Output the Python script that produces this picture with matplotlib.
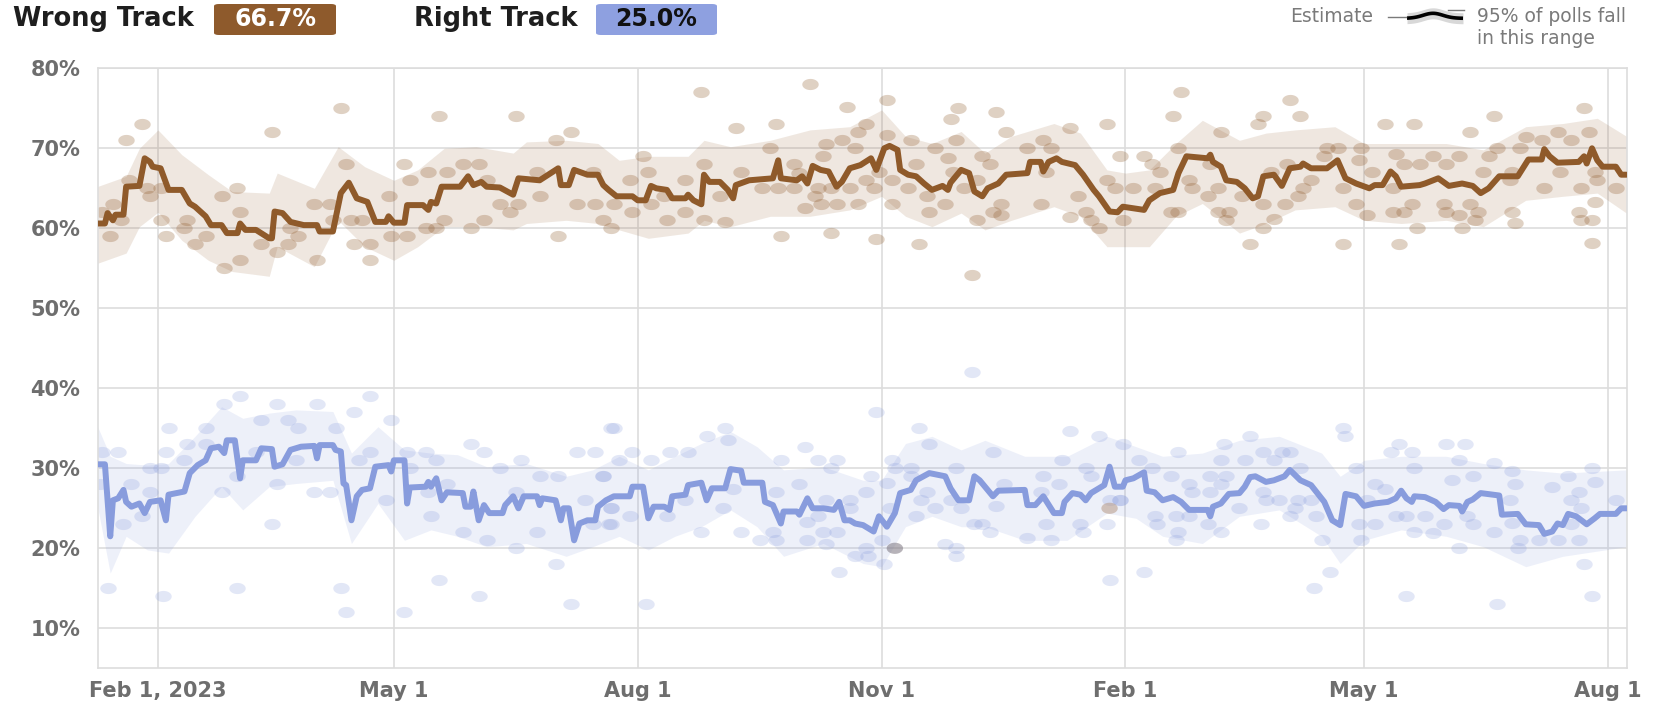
import matplotlib
matplotlib.use("Agg")
import matplotlib.pyplot as plt
import matplotlib.dates as mdates
from matplotlib.path import Path
from matplotlib.patches import FancyBboxPatch
from matplotlib.lines import Line2D
import numpy as np
import pandas as pd

# ---------------- DATA ----------------
wrong_est_dates = [
    "2023-01-09", "2023-01-12", "2023-01-13", "2023-01-15", "2023-01-16", "2023-01-19", "2023-01-20",
    "2023-01-25", "2023-01-27", "2023-01-29", "2023-01-30", "2023-02-02", "2023-02-05", "2023-02-10",
    "2023-02-13", "2023-02-15", "2023-02-19", "2023-02-21", "2023-02-25", "2023-02-27", "2023-03-03",
    "2023-03-04", "2023-03-06", "2023-03-10", "2023-03-15", "2023-03-16", "2023-03-17", "2023-03-20",
    "2023-03-23", "2023-03-28", "2023-04-02", "2023-04-03", "2023-04-08", "2023-04-11", "2023-04-14",
    "2023-04-17", "2023-04-21", "2023-04-24", "2023-04-28", "2023-04-29", "2023-05-01", "2023-05-05",
    "2023-05-06", "2023-05-12", "2023-05-14", "2023-05-15", "2023-05-17", "2023-05-19", "2023-05-26",
    "2023-05-29", "2023-05-31", "2023-06-03", "2023-06-05", "2023-06-10", "2023-06-15", "2023-06-17",
    "2023-06-25", "2023-07-02", "2023-07-03", "2023-07-06", "2023-07-08", "2023-07-13", "2023-07-17",
    "2023-07-19", "2023-07-21", "2023-07-24", "2023-07-30", "2023-08-01", "2023-08-04", "2023-08-06",
    "2023-08-08", "2023-08-12", "2023-08-14", "2023-08-19", "2023-08-20", "2023-08-22", "2023-08-25",
    "2023-08-26", "2023-08-28", "2023-09-01", "2023-09-04", "2023-09-06", "2023-09-07", "2023-09-12",
    "2023-09-21", "2023-09-23", "2023-09-24", "2023-09-30", "2023-10-02", "2023-10-04", "2023-10-06",
    "2023-10-09", "2023-10-12", "2023-10-15", "2023-10-17", "2023-10-20", "2023-10-24", "2023-10-28",
    "2023-10-30", "2023-11-02", "2023-11-04", "2023-11-07", "2023-11-08", "2023-11-11", "2023-11-14",
    "2023-11-17", "2023-11-20", "2023-11-24", "2023-11-26", "2023-11-27", "2023-12-01", "2023-12-04",
    "2023-12-06", "2023-12-09", "2023-12-11", "2023-12-15", "2023-12-18", "2023-12-26", "2023-12-27",
    "2023-12-31", "2024-01-01", "2024-01-03", "2024-01-06", "2024-01-08", "2024-01-13", "2024-01-16",
    "2024-01-20", "2024-01-22", "2024-01-26", "2024-01-29", "2024-01-31", "2024-02-08", "2024-02-10",
    "2024-02-14", "2024-02-19", "2024-02-21", "2024-02-24", "2024-03-03", "2024-03-04", "2024-03-05",
    "2024-03-08", "2024-03-10", "2024-03-14", "2024-03-17", "2024-03-20", "2024-03-22", "2024-03-24",
    "2024-03-28", "2024-03-31", "2024-04-03", "2024-04-07", "2024-04-08", "2024-04-11", "2024-04-17",
    "2024-04-21", "2024-04-24", "2024-04-28", "2024-05-03", "2024-05-05", "2024-05-08", "2024-05-11",
    "2024-05-13", "2024-05-15", "2024-05-22", "2024-05-24", "2024-05-29", "2024-06-02", "2024-06-07",
    "2024-06-11", "2024-06-14", "2024-06-17", "2024-06-21", "2024-06-28", "2024-07-02", "2024-07-07",
    "2024-07-08", "2024-07-10", "2024-07-13", "2024-07-21", "2024-07-23", "2024-07-24", "2024-07-26",
    "2024-07-28", "2024-07-30", "2024-08-04", "2024-08-06", "2024-08-08",
]
wrong_est_vals = [
    60.6, 60.6, 61.9, 61.0, 61.7, 61.7, 65.2,
    65.3, 68.75, 68.3, 67.7, 67.5, 64.8, 64.8,
    63.1, 62.7, 61.5, 60.4, 60.4, 59.4, 59.4,
    60.6, 59.8, 59.8, 58.75, 58.75, 62.1, 61.9,
    60.8, 60.4, 60.4, 59.6, 59.6, 64.4, 65.7,
    63.75, 63.3, 60.8, 60.8, 61.5, 60.7, 60.7,
    62.9, 62.9, 62.3, 63.3, 63.1, 65.2, 65.2,
    66.5, 65.4, 65.8, 65.2, 65.1, 64.2, 66.25,
    66.0, 67.5, 65.4, 65.4, 67.3, 66.7, 66.7,
    65.4, 64.8, 64.0, 64.0, 63.5, 63.5, 65.3,
    65.0, 64.8, 63.75, 63.75, 64.2, 63.5, 63.0,
    66.7, 65.8, 65.8, 64.8, 63.75, 65.4, 66.0,
    66.25, 68.5, 66.25, 66.0, 66.5, 65.6, 67.8,
    67.3, 67.1, 65.2, 65.8, 67.5, 67.9, 68.75,
    67.3, 70.0, 70.3, 69.8, 67.3, 66.7, 66.5,
    65.6, 64.8, 65.3, 64.8, 65.7, 67.3, 66.9,
    64.6, 64.0, 65.0, 65.6, 66.7, 66.9, 68.3,
    68.3, 67.1, 68.3, 68.75, 68.3, 67.9, 66.7,
    64.8, 64.0, 62.1, 62.0, 62.7, 62.3, 63.5,
    64.4, 64.8, 66.9, 69.0, 68.75, 69.2, 68.3,
    67.7, 66.0, 65.8, 65.0, 63.75, 64.0, 66.5,
    66.7, 65.3, 67.5, 67.7, 68.1, 67.5, 67.5,
    68.5, 66.25, 65.6, 65.0, 65.4, 65.4, 67.1,
    66.5, 65.2, 65.4, 65.6, 66.25, 65.3, 65.6,
    65.3, 64.4, 65.0, 66.5, 66.5, 68.6, 68.6,
    69.9, 69.0, 68.2, 68.3, 69.0, 68.1, 70.0,
    68.5, 67.7, 67.7, 66.7, 66.7,
]

right_est_dates = [
    "2023-01-09", "2023-01-12", "2023-01-14", "2023-01-15", "2023-01-17", "2023-01-19", "2023-01-20",
    "2023-01-22", "2023-01-25", "2023-01-27", "2023-01-29", "2023-02-02", "2023-02-04", "2023-02-05",
    "2023-02-11", "2023-02-13", "2023-02-16", "2023-02-19", "2023-02-21", "2023-02-24", "2023-02-26",
    "2023-02-27", "2023-03-02", "2023-03-04", "2023-03-05", "2023-03-10", "2023-03-12", "2023-03-16",
    "2023-03-17", "2023-03-20", "2023-03-23", "2023-03-27", "2023-04-01", "2023-04-02", "2023-04-03",
    "2023-04-08", "2023-04-09", "2023-04-11", "2023-04-12", "2023-04-13", "2023-04-15", "2023-04-17",
    "2023-04-19", "2023-04-22", "2023-04-24", "2023-04-29", "2023-04-30", "2023-05-01", "2023-05-05",
    "2023-05-06", "2023-05-07", "2023-05-13", "2023-05-14", "2023-05-15", "2023-05-17", "2023-05-19",
    "2023-05-21", "2023-05-27", "2023-05-28", "2023-05-30", "2023-05-31", "2023-06-02", "2023-06-04",
    "2023-06-06", "2023-06-11", "2023-06-12", "2023-06-15", "2023-06-17", "2023-06-19", "2023-06-24",
    "2023-06-25", "2023-06-26", "2023-07-01", "2023-07-03", "2023-07-04", "2023-07-06", "2023-07-08",
    "2023-07-10", "2023-07-13", "2023-07-16", "2023-07-17", "2023-07-20", "2023-07-23", "2023-07-29",
    "2023-07-30", "2023-08-03", "2023-08-05", "2023-08-07", "2023-08-11", "2023-08-13", "2023-08-14",
    "2023-08-19", "2023-08-20", "2023-08-25", "2023-08-27", "2023-08-29", "2023-09-03", "2023-09-05",
    "2023-09-09", "2023-09-10", "2023-09-17", "2023-09-18", "2023-09-21", "2023-09-24", "2023-09-25",
    "2023-09-30", "2023-10-01", "2023-10-04", "2023-10-06", "2023-10-10", "2023-10-14", "2023-10-16",
    "2023-10-18", "2023-10-20", "2023-10-22", "2023-10-25", "2023-10-29", "2023-10-31", "2023-11-03",
    "2023-11-06", "2023-11-08", "2023-11-12", "2023-11-14", "2023-11-19", "2023-11-25", "2023-11-27",
    "2023-11-30", "2023-12-04", "2023-12-06", "2023-12-08", "2023-12-10", "2023-12-13", "2023-12-15",
    "2023-12-25", "2023-12-26", "2023-12-29", "2024-01-01", "2024-01-05", "2024-01-08", "2024-01-09",
    "2024-01-12", "2024-01-15", "2024-01-17", "2024-01-19", "2024-01-22", "2024-01-24", "2024-01-26",
    "2024-01-28", "2024-01-31", "2024-02-01", "2024-02-04", "2024-02-08", "2024-02-09", "2024-02-12",
    "2024-02-15", "2024-02-19", "2024-02-22", "2024-02-25", "2024-03-03", "2024-03-04", "2024-03-05",
    "2024-03-08", "2024-03-11", "2024-03-15", "2024-03-17", "2024-03-19", "2024-03-21", "2024-03-25",
    "2024-03-28", "2024-04-01", "2024-04-03", "2024-04-07", "2024-04-11", "2024-04-16", "2024-04-19",
    "2024-04-22", "2024-04-24", "2024-04-28", "2024-05-01", "2024-05-05", "2024-05-10", "2024-05-13",
    "2024-05-15", "2024-05-17", "2024-05-19", "2024-05-20", "2024-05-24", "2024-05-28", "2024-05-31",
    "2024-06-02", "2024-06-06", "2024-06-07", "2024-06-09", "2024-06-11", "2024-06-14", "2024-06-21",
    "2024-06-22", "2024-06-28", "2024-07-01", "2024-07-06", "2024-07-08", "2024-07-11", "2024-07-13",
    "2024-07-15", "2024-07-17", "2024-07-20", "2024-07-24", "2024-07-27", "2024-07-29", "2024-08-04",
    "2024-08-06", "2024-08-08",
]
right_est_vals = [
    30.5, 30.5, 21.5, 26.0, 26.25, 27.3, 25.8,
    25.2, 25.6, 24.4, 25.8, 26.0, 23.5, 26.7,
    27.1, 29.4, 30.4, 31.0, 32.5, 32.7, 31.9,
    33.5, 33.5, 28.75, 31.0, 31.0, 32.5, 32.4,
    30.2, 30.5, 32.3, 32.7, 32.8, 31.25, 32.9,
    32.9, 32.3, 32.1, 28.1, 27.9, 23.5, 26.5,
    27.3, 27.5, 30.2, 30.4, 29.6, 31.0, 31.0,
    25.6, 27.6, 27.7, 28.3, 27.7, 28.75, 26.0,
    27.0, 26.9, 25.2, 25.2, 27.1, 23.5, 25.4,
    24.4, 24.4, 25.4, 26.5, 25.0, 26.5, 26.5,
    25.4, 26.25, 26.0, 23.5, 25.0, 25.0, 21.0,
    23.1, 23.5, 23.5, 25.2, 26.0, 26.5, 26.5,
    27.7, 27.7, 23.75, 25.2, 25.2, 24.8, 26.5,
    26.7, 27.9, 28.2, 26.0, 27.5, 27.5, 29.9,
    29.7, 28.2, 28.2, 25.8, 25.4, 23.1, 24.6,
    24.6, 24.2, 26.25, 25.0, 25.0, 24.8, 25.8,
    23.5, 23.5, 23.1, 22.9, 22.1, 24.0, 22.7,
    24.4, 26.9, 27.3, 28.5, 29.4, 29.0, 27.5,
    26.0, 26.0, 29.0, 28.5, 27.7, 26.5, 27.2,
    27.3, 25.4, 25.4, 26.5, 24.4, 24.4, 25.8,
    26.9, 26.7, 26.0, 26.9, 27.5, 27.9, 30.2,
    27.7, 27.7, 28.5, 28.75, 29.5, 27.2, 27.0,
    26.0, 26.4, 25.8, 24.8, 24.8, 24.0, 25.2,
    25.6, 26.8, 26.9, 27.7, 28.9, 29.0, 28.3,
    28.5, 29.0, 29.8, 28.5, 27.9, 25.8, 23.5,
    22.9, 26.8, 26.5, 25.3, 25.6, 25.8, 26.25,
    27.2, 26.25, 25.8, 26.5, 26.4, 25.8, 24.9,
    25.4, 25.3, 24.6, 25.8, 26.1, 26.9, 26.6,
    24.2, 24.3, 23.0, 22.9, 21.8, 22.1, 23.1,
    22.9, 24.3, 24.0, 23.0, 23.75, 24.3, 24.3,
    25.0, 25.0,
]

wrong_band_dates = [
    "2023-01-09", "2023-01-20", "2023-01-25", "2023-02-01", "2023-02-10", "2023-02-20", "2023-03-01",
    "2023-03-15", "2023-03-18", "2023-04-01", "2023-04-10", "2023-04-20", "2023-05-01", "2023-05-10",
    "2023-05-20", "2023-06-01", "2023-06-15", "2023-06-20", "2023-07-05", "2023-07-17", "2023-07-25",
    "2023-08-05", "2023-08-20", "2023-08-26", "2023-09-05", "2023-09-20", "2023-10-05", "2023-10-20",
    "2023-11-01", "2023-11-10", "2023-11-20", "2023-12-01", "2023-12-10", "2023-12-20", "2024-01-05",
    "2024-01-15", "2024-01-25", "2024-02-01", "2024-02-10", "2024-02-20", "2024-03-01", "2024-03-15",
    "2024-03-25", "2024-04-05", "2024-04-20", "2024-05-01", "2024-05-15", "2024-06-01", "2024-06-15",
    "2024-07-01", "2024-07-15", "2024-07-28", "2024-08-08",
]
wrong_band_lo = [
    55.6, 56.9, 60.2, 62.0, 58.5, 56.0, 54.6,
    54.0, 57.7, 55.2, 61.0, 57.7, 56.0, 57.7,
    60.2, 60.2, 59.8, 60.6, 61.0, 60.6, 59.8,
    58.75, 59.4, 61.0, 60.2, 61.5, 61.5, 62.3,
    64.0, 61.5, 60.2, 61.9, 59.8, 61.0, 62.7,
    61.5, 57.7, 57.7, 57.7, 61.5, 63.1, 59.4,
    60.6, 62.3, 62.7, 61.0, 60.6, 61.0, 60.2,
    63.5, 64.0, 64.4, 61.9,
]
wrong_band_hi = [
    65.2, 66.5, 70.0, 72.3, 69.2, 66.7, 64.6,
    64.4, 66.9, 65.0, 70.2, 67.7, 66.0, 67.3,
    70.0, 70.2, 69.4, 70.8, 71.0, 70.6, 68.5,
    69.0, 69.0, 71.0, 70.2, 71.0, 72.3, 72.7,
    74.8, 71.5, 70.6, 72.1, 69.4, 71.5, 73.1,
    71.9, 67.3, 66.9, 67.3, 70.6, 73.5, 71.0,
    71.9, 72.3, 72.7, 70.6, 70.6, 70.6, 69.8,
    72.7, 73.1, 73.75, 71.5,
]

right_band_dates = [
    "2023-01-09", "2023-01-14", "2023-01-20", "2023-01-28", "2023-02-05", "2023-02-15", "2023-02-25",
    "2023-03-05", "2023-03-15", "2023-03-25", "2023-04-08", "2023-04-15", "2023-04-25", "2023-05-05",
    "2023-05-15", "2023-05-25", "2023-06-05", "2023-06-20", "2023-07-05", "2023-07-15", "2023-07-25",
    "2023-08-05", "2023-08-15", "2023-08-25", "2023-09-05", "2023-09-15", "2023-09-25", "2023-10-10",
    "2023-10-25", "2023-11-01", "2023-11-10", "2023-11-20", "2023-12-01", "2023-12-10", "2023-12-25",
    "2024-01-10", "2024-01-25", "2024-02-05", "2024-02-15", "2024-03-01", "2024-03-15", "2024-03-30",
    "2024-04-15", "2024-04-22", "2024-05-01", "2024-05-15", "2024-06-01", "2024-06-15", "2024-07-01",
    "2024-07-15", "2024-08-08",
]
right_band_lo = [
    25.6, 16.9, 21.5, 19.8, 19.4, 24.0, 27.7,
    24.8, 27.7, 28.1, 28.5, 20.6, 25.6, 21.0,
    22.3, 21.5, 20.2, 20.6, 19.0, 20.2, 21.5,
    19.8, 21.5, 22.7, 24.8, 22.7, 19.0, 20.6,
    18.1, 17.7, 22.7, 24.0, 22.7, 22.7, 21.0,
    21.0, 24.4, 23.75, 21.5, 20.6, 24.0, 24.8,
    21.5, 18.1, 21.0, 22.3, 21.5, 20.2, 17.7,
    19.0, 20.2,
]
right_band_hi = [
    35.4, 31.5, 30.6, 30.4, 30.6, 34.0, 37.7,
    36.25, 36.9, 37.3, 37.1, 31.9, 35.2, 32.3,
    31.9, 31.7, 30.2, 30.6, 29.0, 29.8, 31.5,
    29.8, 31.5, 33.1, 34.6, 32.7, 29.8, 30.2,
    28.5, 28.5, 33.1, 34.0, 32.3, 33.5, 31.5,
    31.5, 34.0, 32.7, 31.5, 31.9, 33.5, 34.0,
    31.9, 29.0, 31.0, 31.5, 31.5, 30.6, 29.8,
    29.4, 29.8,
]

wrong_poll_dates = [
    "2023-04-11", "2023-03-16", "2023-05-18", "2023-06-16", "2023-07-07", "2023-07-01", "2023-01-26",
    "2023-01-20", "2023-04-13", "2023-05-05", "2023-05-27", "2023-06-02", "2023-05-14", "2023-05-21",
    "2023-05-07", "2023-06-05", "2023-06-24", "2023-07-15", "2023-01-21", "2023-01-28", "2023-02-02",
    "2023-03-03", "2023-02-25", "2023-04-29", "2023-06-25", "2023-01-15", "2023-01-29", "2023-03-04",
    "2023-04-01", "2023-04-07", "2023-06-10", "2023-06-17", "2023-07-09", "2023-07-16", "2023-06-14",
    "2023-01-11", "2023-01-18", "2023-02-02", "2023-02-12", "2023-04-08", "2023-04-15", "2023-04-19",
    "2023-05-20", "2023-06-04", "2023-07-19", "2023-01-14", "2023-02-04", "2023-02-11", "2023-02-19",
    "2023-03-26", "2023-04-30", "2023-05-06", "2023-05-13", "2023-05-17", "2023-05-30", "2023-07-02",
    "2023-07-22", "2023-02-15", "2023-03-12", "2023-03-22", "2023-04-16", "2023-04-22", "2023-03-18",
    "2023-03-04", "2023-02-26", "2023-04-02", "2023-04-22", "2023-03-23",
    "2023-08-25", "2023-10-05", "2023-10-19", "2023-11-03", "2023-11-30", "2023-12-14", "2023-11-27",
    "2023-09-07", "2023-09-22", "2024-01-25", "2023-10-26", "2024-01-11", "2023-10-23", "2023-12-18",
    "2023-11-03", "2023-10-17", "2023-11-12", "2023-11-29", "2024-01-01", "2023-08-03", "2023-09-20",
    "2023-10-11", "2023-10-22", "2023-11-21", "2023-12-26", "2024-01-04", "2023-11-26", "2023-12-09",
    "2023-10-10", "2023-08-26", "2023-09-29", "2023-11-14", "2023-12-12", "2024-01-30", "2023-08-05",
    "2023-09-09", "2023-10-31", "2023-11-28", "2024-01-02", "2023-07-29", "2023-08-19", "2023-10-01",
    "2023-10-26", "2023-11-05", "2023-12-07", "2024-01-25", "2023-09-17", "2023-09-23", "2023-09-29",
    "2023-10-08", "2023-10-13", "2023-10-20", "2023-10-29", "2023-12-02", "2024-01-28", "2023-08-11",
    "2023-09-01", "2023-10-07", "2023-11-11", "2023-11-18", "2024-01-14", "2023-07-23", "2023-08-06",
    "2023-10-03", "2023-10-09", "2023-10-15", "2023-10-23", "2023-11-05", "2023-11-25", "2023-12-16",
    "2023-12-31", "2023-07-30", "2023-08-19", "2023-11-19", "2023-12-13", "2024-01-17", "2023-08-12",
    "2023-08-26", "2023-09-03", "2023-12-07", "2023-12-16", "2024-01-11", "2024-01-19", "2024-01-22",
    "2023-09-24", "2023-10-13", "2023-10-30", "2023-11-15", "2023-12-05",
    "2024-02-22", "2024-04-03", "2024-02-19", "2024-03-24", "2024-03-22", "2024-04-07", "2024-06-19",
    "2024-07-23", "2024-05-09", "2024-05-20", "2024-03-08", "2024-06-10", "2024-07-13", "2024-07-25",
    "2024-07-01", "2024-07-07", "2024-07-18", "2024-02-08", "2024-02-21", "2024-04-17", "2024-04-21",
    "2024-04-30", "2024-06-20", "2024-06-29", "2024-02-11", "2024-02-14", "2024-03-04", "2024-04-02",
    "2024-04-16", "2024-04-29", "2024-05-13", "2024-05-27", "2024-06-06", "2024-06-17", "2024-06-15",
    "2024-05-04", "2024-05-16", "2024-05-22", "2024-06-01", "2024-06-26", "2024-07-14", "2024-07-27",
    "2024-02-25", "2024-06-25", "2024-07-28", "2024-03-27", "2024-04-11", "2024-02-26", "2024-02-04",
    "2024-02-12", "2024-03-07", "2024-04-08", "2024-04-23", "2024-05-12", "2024-07-08", "2024-07-22",
    "2024-08-04", "2024-03-03", "2024-03-16", "2024-04-06", "2024-04-28", "2024-05-19", "2024-05-31",
    "2024-06-10", "2024-07-27", "2024-04-01", "2024-03-24", "2024-02-18", "2024-02-21", "2024-03-07",
    "2024-03-11", "2024-05-02", "2024-05-12", "2024-05-16", "2024-06-01", "2024-06-06", "2024-06-13",
    "2024-06-26", "2024-07-21", "2024-01-31", "2024-03-10", "2024-03-28", "2024-06-12", "2024-07-22",
    "2024-07-26", "2024-06-27", "2024-03-24", "2024-05-21", "2024-06-07", "2024-03-19", "2024-04-23",
    "2024-05-14", "2024-07-26",
]
wrong_poll_vals = [
    75.0, 72.0, 74.0, 74.0, 72.0, 71.0, 73.0,
    71.0, 68.0, 68.0, 68.0, 68.0, 67.0, 67.0,
    66.0, 66.0, 67.0, 67.0, 66.0, 65.0, 65.0,
    65.0, 64.0, 64.0, 64.0, 63.0, 64.0, 62.0,
    63.0, 63.0, 63.0, 63.0, 63.0, 63.0, 62.0,
    62.0, 61.0, 61.0, 61.0, 61.0, 61.0, 61.0,
    61.0, 61.0, 61.0, 59.0, 59.0, 60.0, 59.0,
    59.0, 59.0, 59.0, 60.0, 60.0, 60.0, 59.0,
    60.0, 58.0, 58.0, 58.0, 58.0, 58.0, 57.0,
    56.0, 55.0, 56.0, 56.0, 60.0,
    77.0, 78.0, 75.2, 76.0, 75.0, 74.6, 73.7,
    72.6, 73.0, 73.0, 73.0, 72.6, 72.0, 72.0,
    71.7, 71.0, 71.0, 71.0, 71.0, 69.0, 70.0,
    70.5, 70.0, 70.0, 70.0, 70.0, 68.75, 69.0,
    69.0, 68.0, 68.0, 68.0, 68.0, 69.0, 67.0,
    67.0, 67.1, 67.0, 67.0, 66.0, 66.0, 66.9,
    66.0, 66.0, 66.0, 66.0, 65.0, 65.0, 65.0,
    65.0, 65.0, 65.0, 65.0, 65.0, 65.0, 64.0,
    64.0, 64.0, 65.0, 64.0, 64.0, 63.0, 63.0,
    62.5, 63.0, 63.0, 63.0, 63.0, 63.0, 63.0,
    63.0, 62.0, 62.0, 62.0, 62.0, 62.0, 61.0,
    61.0, 60.8, 61.0, 61.7, 61.4, 61.0, 60.0,
    59.0, 59.4, 58.6, 58.0, 54.1,
    77.0, 76.0, 74.0, 74.0, 73.0, 74.0, 74.0,
    75.0, 73.0, 73.0, 72.0, 72.0, 72.0, 72.0,
    71.4, 71.0, 71.0, 69.0, 70.0, 70.0, 70.0,
    70.0, 70.0, 70.0, 68.0, 67.0, 68.0, 68.0,
    69.0, 68.6, 69.3, 69.0, 69.0, 69.0, 67.0,
    67.0, 68.0, 68.0, 68.0, 67.0, 67.0, 67.0,
    66.0, 66.0, 66.0, 67.0, 66.0, 65.0, 65.0,
    65.0, 65.0, 65.0, 65.0, 65.0, 65.0, 65.0,
    65.0, 64.0, 64.0, 64.0, 63.0, 63.0, 63.0,
    63.0, 63.3, 63.0, 63.0, 62.0, 62.0, 62.0,
    62.0, 61.7, 62.0, 62.0, 62.0, 61.7, 62.0,
    62.0, 62.0, 61.0, 61.0, 61.1, 61.0, 61.0,
    61.0, 60.6, 60.0, 60.0, 60.0, 58.0, 58.0,
    58.0, 58.2,
]

right_poll_dates = [
    "2023-03-04", "2023-04-22", "2023-02-26", "2023-03-18", "2023-04-02", "2023-04-16", "2023-02-05",
    "2023-02-19", "2023-03-12", "2023-03-22", "2023-03-26", "2023-04-09", "2023-04-30", "2023-07-22",
    "2023-02-12", "2023-02-19", "2023-05-30", "2023-01-11", "2023-01-17", "2023-02-04", "2023-03-10",
    "2023-04-22", "2023-05-06", "2023-05-13", "2023-06-04", "2023-07-09", "2023-07-16", "2023-02-11",
    "2023-03-25", "2023-04-18", "2023-05-17", "2023-06-18", "2023-07-25", "2023-01-29", "2023-02-02",
    "2023-05-07", "2023-06-10", "2023-06-25", "2023-07-02", "2023-07-19", "2023-03-03", "2023-01-22",
    "2023-03-18", "2023-05-21", "2023-01-10", "2023-02-25", "2023-04-01", "2023-04-07", "2023-01-29",
    "2023-05-14", "2023-06-16", "2023-04-28", "2023-07-12", "2023-07-22", "2023-01-26", "2023-05-15",
    "2023-01-19", "2023-03-16", "2023-07-21", "2023-05-27", "2023-06-24", "2023-07-15", "2023-06-05",
    "2023-06-16", "2023-07-01", "2023-05-18", "2023-01-13", "2023-02-03", "2023-03-03", "2023-04-11",
    "2023-04-13", "2023-05-05", "2023-06-02", "2023-07-07",
    "2023-12-05", "2023-10-30", "2023-07-23", "2023-09-03", "2023-11-15", "2024-01-11", "2024-01-22",
    "2024-01-31", "2023-08-27", "2023-09-04", "2023-11-19", "2023-10-03", "2023-07-30", "2023-08-13",
    "2023-08-20", "2023-12-13", "2023-08-06", "2023-09-24", "2023-10-08", "2023-10-15", "2023-11-05",
    "2024-01-08", "2023-10-13", "2023-11-06", "2023-11-12", "2023-11-29", "2024-01-17", "2023-07-19",
    "2023-10-28", "2023-11-12", "2024-01-01", "2024-01-19", "2023-10-01", "2023-11-03", "2023-12-17",
    "2024-01-07", "2023-09-06", "2023-09-22", "2023-10-26", "2023-11-18", "2023-12-31", "2023-08-19",
    "2023-10-11", "2023-10-20", "2023-11-16", "2023-11-27", "2024-01-26", "2024-01-30", "2023-07-22",
    "2023-09-02", "2023-10-20", "2023-11-04", "2023-11-21", "2023-12-01", "2023-12-14", "2023-07-29",
    "2023-08-12", "2023-10-08", "2023-11-14", "2023-07-22", "2023-10-04", "2023-12-06", "2023-12-09",
    "2024-01-02", "2024-01-15", "2024-01-25", "2023-08-25", "2023-09-09", "2023-09-21", "2023-10-10",
    "2023-10-15", "2023-12-12", "2024-01-16", "2023-09-16", "2023-09-22", "2023-10-04", "2023-11-01",
    "2023-12-26", "2024-01-04", "2023-10-11", "2023-11-25", "2023-11-29", "2023-10-26", "2023-10-22",
    "2023-10-27", "2023-11-29", "2023-11-02", "2023-10-16", "2024-01-26", "2023-08-04",
    "2024-04-23", "2024-04-24", "2024-03-19", "2024-03-09", "2024-06-01", "2024-06-08", "2024-05-14",
    "2024-02-21", "2024-03-24", "2024-03-31", "2024-04-03", "2024-05-11", "2024-05-19", "2024-02-06",
    "2024-03-08", "2024-03-17", "2024-03-28", "2024-06-06", "2024-06-19", "2024-02-11", "2024-04-07",
    "2024-04-28", "2024-05-20", "2024-06-26", "2024-07-26", "2024-02-18", "2024-03-04", "2024-03-10",
    "2024-06-11", "2024-07-17", "2024-06-03", "2024-02-25", "2024-03-08", "2024-05-05", "2024-06-27",
    "2024-07-11", "2024-07-27", "2024-02-26", "2024-03-04", "2024-03-24", "2024-05-09", "2024-07-21",
    "2024-01-30", "2024-03-25", "2024-03-30", "2024-04-06", "2024-04-11", "2024-06-25", "2024-07-18",
    "2024-08-04", "2024-03-15", "2024-04-05", "2024-05-02", "2024-07-22", "2024-02-12", "2024-02-20",
    "2024-02-25", "2024-04-03", "2024-04-13", "2024-05-13", "2024-05-17", "2024-05-24", "2024-06-09",
    "2024-06-26", "2024-02-13", "2024-03-03", "2024-03-23", "2024-04-29", "2024-05-05", "2024-05-31",
    "2024-06-11", "2024-07-18", "2024-02-21", "2024-03-08", "2024-05-20", "2024-05-27", "2024-06-19",
    "2024-02-20", "2024-04-15", "2024-04-30", "2024-06-29", "2024-07-06", "2024-07-13", "2024-07-21",
    "2024-06-06", "2024-06-28", "2024-07-23", "2024-02-08", "2024-04-18", "2024-04-12", "2024-05-17",
    "2024-06-20", "2024-07-26",
]
right_poll_vals = [
    39.0, 39.0, 38.0, 38.0, 38.0, 37.0, 35.0,
    35.0, 36.0, 36.0, 35.0, 35.0, 36.0, 35.0,
    33.0, 33.0, 33.0, 32.0, 32.0, 32.0, 32.0,
    32.0, 32.0, 32.0, 32.0, 32.0, 32.0, 31.0,
    31.0, 31.0, 31.0, 31.0, 31.0, 30.0, 30.0,
    30.0, 30.0, 29.0, 29.0, 29.0, 29.0, 28.0,
    28.0, 28.0, 28.0, 27.0, 27.0, 27.0, 27.0,
    27.0, 27.0, 26.0, 26.0, 25.0, 24.0, 24.0,
    23.0, 23.0, 23.0, 22.0, 22.0, 23.0, 21.0,
    20.0, 18.0, 16.0, 15.0, 14.0, 15.0, 15.0,
    12.0, 12.0, 14.0, 13.0,
    42.0, 37.0, 35.0, 35.0, 35.0, 34.6, 34.0,
    33.0, 34.0, 33.5, 33.0, 32.7, 32.0, 32.0,
    32.0, 32.0, 31.0, 31.0, 31.0, 31.0, 31.0,
    31.0, 30.0, 30.0, 30.0, 30.0, 30.0, 29.0,
    29.0, 29.0, 29.0, 29.0, 28.0, 28.2, 28.0,
    28.0, 27.4, 27.0, 27.0, 27.0, 27.0, 26.0,
    26.0, 26.0, 26.0, 26.0, 26.0, 26.0, 25.0,
    25.0, 25.0, 25.0, 25.0, 25.0, 25.3, 24.0,
    24.0, 24.0, 24.0, 23.0, 23.25, 23.0, 23.0,
    23.0, 23.0, 23.0, 22.0, 22.0, 22.0, 22.0,
    22.0, 22.0, 22.0, 21.0, 21.0, 21.0, 21.0,
    21.25, 21.0, 20.6, 20.6, 20.0, 20.0, 19.0,
    19.0, 19.0, 18.0, 17.0, 16.0, 13.0,
    35.0, 34.0, 34.0, 33.0, 33.0, 33.0, 33.0,
    32.0, 32.0, 32.0, 32.0, 32.0, 32.0, 31.0,
    31.0, 31.0, 31.0, 31.0, 30.6, 30.0, 30.0,
    30.0, 30.0, 29.6, 30.0, 29.0, 29.0, 29.0,
    29.0, 29.0, 28.5, 28.0, 28.0, 28.0, 28.0,
    27.6, 28.3, 27.0, 27.0, 27.0, 27.4, 27.0,
    26.0, 26.0, 26.0, 26.0, 26.0, 26.0, 26.0,
    26.0, 25.0, 25.0, 26.0, 25.0, 24.0, 24.0,
    24.0, 24.0, 24.0, 24.0, 24.0, 24.0, 24.0,
    23.2, 23.0, 23.0, 23.0, 23.0, 23.0, 23.0,
    23.0, 23.0, 22.0, 22.0, 22.0, 21.9, 22.0,
    21.0, 21.0, 21.0, 21.0, 21.0, 21.0, 21.0,
    20.0, 20.0, 18.0, 17.0, 17.0, 15.0, 14.0,
    13.0, 14.0,
]

# two polls shown in mixed colours inside the lower band
odd_poll_dates = ["2023-11-06", "2024-01-26"]
odd_poll_vals = [20.0, 25.0]

x_tick_dates = ["2023-02-01", "2023-05-01", "2023-08-01", "2023-11-01",
                "2024-02-01", "2024-05-01", "2024-08-01"]
x_tick_labels = ["Feb 1, 2023", "May 1", "Aug 1", "Nov 1", "Feb 1", "May 1", "Aug 1"]
y_ticks = [10, 20, 30, 40, 50, 60, 70, 80]
y_tick_labels = ["10%", "20%", "30%", "40%", "50%", "60%", "70%", "80%"]

wrong_label, wrong_latest = "Wrong Track", "66.7%"
right_label, right_latest = "Right Track", "25.0%"

# ---------------- STYLE ----------------
BROWN = "#8F5A2A"
BLUE = "#889CDD"
BROWN_BADGE = "#8E5A2C"
BLUE_BADGE = "#8EA0E0"
GRID = "#DDDDDD"
TICK = "#6E6E6E"

W, H = 1655, 701
fig = plt.figure(figsize=(W / 100, H / 100), dpi=100)


def fx(px):
    return px / W


def fy(py):
    return 1 - py / H


ax = fig.add_axes([fx(97.5), fy(668.3), fx(1627) - fx(97.5), 600 / H])

to_dt = pd.to_datetime

# bands
ax.fill_between(to_dt(wrong_band_dates), wrong_band_lo, wrong_band_hi,
                color=BROWN, alpha=0.14, linewidth=0, zorder=1)
ax.fill_between(to_dt(right_band_dates), right_band_lo, right_band_hi,
                color=BLUE, alpha=0.15, linewidth=0, zorder=1)

# ellipse marker (dots are wider than tall)
t = np.linspace(0, 2 * np.pi, 48)
ell = Path(np.column_stack([np.cos(t), 0.68 * np.sin(t)]), closed=True)

ax.scatter(to_dt(wrong_poll_dates), wrong_poll_vals, marker=ell, s=140,
           color=BROWN, alpha=0.28, linewidths=0, zorder=2)
ax.scatter(to_dt(right_poll_dates), right_poll_vals, marker=ell, s=140,
           color=BLUE, alpha=0.24, linewidths=0, zorder=2)
ax.scatter(to_dt(odd_poll_dates), odd_poll_vals, marker=ell, s=140,
           color=["#7d7680", "#b89a86"], alpha=0.55, linewidths=0, zorder=2)

# estimate lines
ax.plot(to_dt(wrong_est_dates), wrong_est_vals, color=BROWN, lw=4.3,
        solid_joinstyle="round", solid_capstyle="round", zorder=4)
ax.plot(to_dt(right_est_dates), right_est_vals, color=BLUE, lw=4.3,
        solid_joinstyle="round", solid_capstyle="round", zorder=4)

# axes formatting
x0 = mdates.date2num(pd.Timestamp("2023-01-09")) + 0.2
x1 = mdates.date2num(pd.Timestamp("2024-08-08")) + 0.2
ax.set_xlim(x0, x1)
ax.set_ylim(5, 80)
ax.set_yticks(y_ticks)
ax.set_yticklabels(y_tick_labels)
ax.set_xticks(to_dt(x_tick_dates))
ax.set_xticklabels(x_tick_labels)
ax.grid(True, color=GRID, lw=1.2, zorder=0)
ax.set_axisbelow(True)
for sp in ax.spines.values():
    sp.set_color(GRID)
    sp.set_linewidth(1.2)
ax.tick_params(axis="both", length=0, colors=TICK)
ax.tick_params(axis="y", pad=12.5)
ax.tick_params(axis="x", pad=9.5)
for lab in ax.get_yticklabels() + ax.get_xticklabels():
    lab.set_fontweight("bold")
    lab.set_fontsize(15)
    lab.set_color(TICK)

# ---------------- HEADER ----------------
fig.text(fx(12.7), fy(19.5), wrong_label, fontsize=18.5, fontweight="bold",
         color="#1e1e1e", ha="left", va="center")
fig.text(fx(414), fy(19.5), right_label, fontsize=18.5, fontweight="bold",
         color="#1e1e1e", ha="left", va="center")

for (l, r, col, txt, tcol) in [(214, 336, BROWN_BADGE, wrong_latest, "white"),
                               (596, 717, BLUE_BADGE, right_latest, "#111111")]:
    patch = FancyBboxPatch((fx(l), fy(35)), fx(r) - fx(l), 31 / H,
                           boxstyle="round,pad=0,rounding_size=0.003",
                           transform=fig.transFigure, facecolor=col,
                           edgecolor="none")
    fig.patches.append(patch)
    fig.text(fx((l + r) / 2), fy(19.5), txt, fontsize=17, fontweight="bold",
             color=tcol, ha="center", va="center")

# ---------------- LEGEND (top right) ----------------
LEG = "#7a7a7a"
fig.text(fx(1373), fy(16.7), "Estimate", fontsize=13.5, color=LEG,
         ha="right", va="center")
fig.text(fx(1477), fy(16.7), "95% of polls fall", fontsize=13.5, color=LEG,
         ha="left", va="center")
fig.text(fx(1477), fy(38.3), "in this range", fontsize=13.5, color=LEG,
         ha="left", va="center")
fig.add_artist(Line2D([fx(1388), fx(1406)], [fy(17), fy(17)], color=LEG,
                      lw=1.0, transform=fig.transFigure))

lax = fig.add_axes([fx(1405), fy(30), fx(1466) - fx(1405), 26 / H])
lax.set_xlim(1405, 1466)
lax.set_ylim(30, 4)
lax.axis("off")
gx = np.linspace(1407, 1463, 30)
gmid = 18.3 - 5.0 * np.exp(-((gx - 1433) / 14.0) ** 2)
lax.fill_between(gx, gmid - 5.5, gmid + 5.5, color="#d8d8d8", lw=0)
lax.plot(gx, gmid, color="black", lw=2.6, solid_capstyle="butt")
lax.plot([1448, 1464], [9.5, 9.5], color=LEG, lw=1.0)

fig.savefig("out.png", dpi=100)
